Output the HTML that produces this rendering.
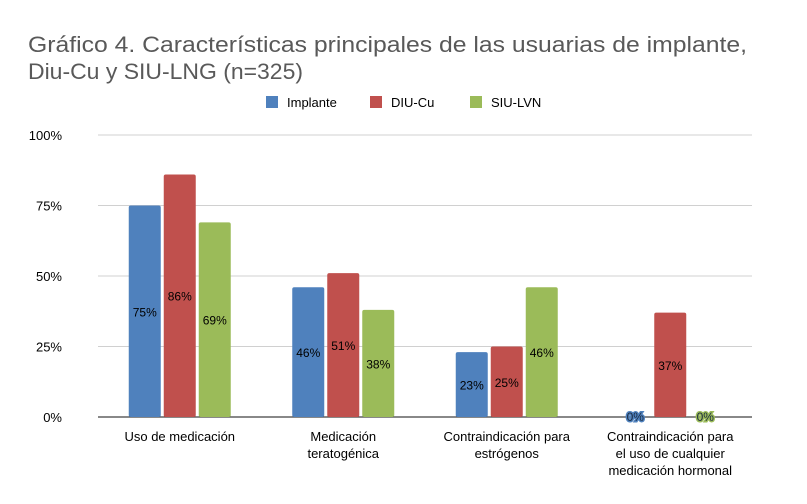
<!DOCTYPE html>
<html><head><meta charset="utf-8">
<style>
body{margin:0;background:#fff;font-family:"Liberation Sans",sans-serif;}
svg text{font-family:"Liberation Sans",sans-serif;}
</style></head>
<body>
<svg width="807" height="499" viewBox="0 0 807 499">
<text x="28" y="52" font-size="22" fill="#595959" textLength="719" lengthAdjust="spacingAndGlyphs">Gráfico 4. Características principales de las usuarias de implante,</text>
<text x="28" y="79" font-size="22" fill="#595959" textLength="275" lengthAdjust="spacingAndGlyphs">Diu-Cu y SIU-LNG (n=325)</text>
<g id="legend"></g>
<g id="grid"></g>
<g id="bars"></g>
<g id="xlabels"></g>
</svg>
<script>
const categories=[["Uso de medicación"],["Medicación","teratogénica"],["Contraindicación para","estrógenos"],["Contraindicación para","el uso de cualquier","medicación hormonal"]];
const seriesNames=["Implante","DIU-Cu","SIU-LVN"];
const implante=[75,46,23,0];
const diuCu=[86,51,25,37];
const siuLvn=[69,38,46,0];
const yTicks=[0,25,50,75,100];
const colors=["#4f81bd","#c0504d","#9bbb59"];
const NS="http://www.w3.org/2000/svg";
const x0=98,x1=752,yBase=417,yTop=135;
const yScale=v=>yBase-(v/100)*(yBase-yTop);
const groupW=(x1-x0)/categories.length;
const xCenter=i=>x0+groupW*(i+0.5);
function mk(tag,attrs,parent){const e=document.createElementNS(NS,tag);for(const k in attrs)e.setAttribute(k,attrs[k]);parent.appendChild(e);return e;}
const grid=document.getElementById('grid');
yTicks.forEach(t=>{
 const y=yScale(t);
 const l=mk('line',{x1:x0,x2:x1,y1:y,y2:y,stroke:t===0?'#404040':'#d0d0d0','stroke-width':t===0?1.3:1},grid);
 
 
 const tx=mk('text',{x:62,y:y+5,'text-anchor':'end','font-size':13,fill:'#000'},grid);
 tx.textContent=t+'%';
 
 
});
const bars=document.getElementById('bars');
const series=[implante,diuCu,siuLvn];
const bw=32,gap=3;
series.forEach((s,si)=>{
 s.forEach((v,i)=>{
  const cx=xCenter(i)+(si-1)*(bw+gap);
  const y=yScale(v);
  if(v>0){
   const r=mk('rect',{x:cx-bw/2,y:y,width:bw,height:yBase-y,fill:colors[si],rx:2},bars);
   
   
  }
  const ly=v>0?(y+yBase)/2+5:yBase+4;
  const t=mk('text',{x:cx,y:ly,'text-anchor':'middle','font-size':12,fill:'#000'},bars);
  if(v===0){t.setAttribute('stroke',colors[si]);t.setAttribute('stroke-width','3');t.setAttribute('paint-order','stroke');t.setAttribute('fill','#1a2a40');}
  t.textContent=v+'%';
  
  
 });
});
const xl=document.getElementById('xlabels');
categories.forEach((c,i)=>{
 c.forEach((line,j)=>{
  const t=mk('text',{x:xCenter(i),y:441+j*17,'text-anchor':'middle','font-size':13,fill:'#000'},xl);
  t.textContent=line;
  
  
 });
});
const lg=document.getElementById('legend');
const lx=[266,370,470];
seriesNames.forEach((n,i)=>{
 const r=mk('rect',{x:lx[i],y:96,width:12,height:12,fill:colors[i]},lg);
 
 
 const t=mk('text',{x:lx[i]+21,y:107,'font-size':13,fill:'#000'},lg);
 t.textContent=n;
 
 
});
</script>
</body></html>
